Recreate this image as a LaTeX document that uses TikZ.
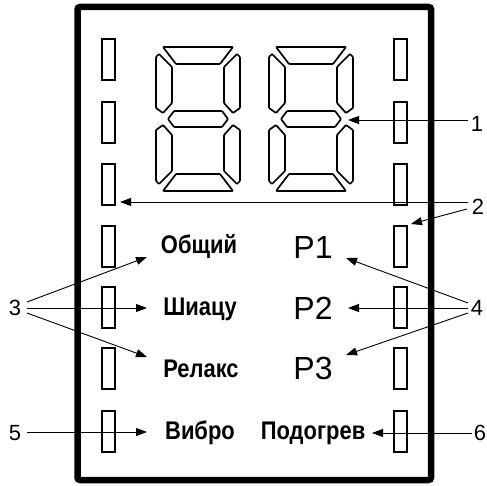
\documentclass[tikz,border=0pt]{standalone}
\usepackage{fontspec}
\setmainfont{Liberation Sans}
\newfontfamily\condbold[FakeStretch=0.86]{Liberation Sans Bold}
\usetikzlibrary{arrows.meta}
\tikzset{
  frame/.style={line width=6.5pt, rounded corners=2.5pt},
  seg/.style={line width=1.7pt, rounded corners=0.8pt, line join=round},
  led/.style={draw, line width=1.5pt, rectangle, minimum width=13pt, minimum height=41pt, inner sep=0pt},
  mode/.style={font=\condbold\fontsize{25.5}{27}\selectfont, inner sep=0pt, anchor=base},
  prog/.style={font=\fontsize{32}{34}\selectfont, inner sep=0pt, anchor=base},
  lab/.style={font=\fontsize{22}{24}\selectfont, inner sep=0pt},
  arr/.style={line width=0.9pt, -{Triangle[length=11pt,width=8pt]}},
  ln/.style={line width=0.9pt}
}
\newcommand{\sevenseg}[2]{%
  \begin{scope}[shift={(#1,#2)}]
    \draw[seg] (-35,-72) -- (35,-72) -- (22,-55) -- (-22,-55) -- cycle;
    \draw[seg] (-35,72) -- (35,72) -- (22,55) -- (-22,55) -- cycle;
    \draw[seg] (-42,-62) -- (-39,-65) -- (-26,-52) -- (-26,-16) -- (-35,-6) -- (-42,-11) -- cycle;
    \draw[seg] (42,-62) -- (39,-65) -- (26,-52) -- (26,-16) -- (35,-6) -- (42,-11) -- cycle;
    \draw[seg] (-42,62) -- (-39,65) -- (-26,52) -- (-26,16) -- (-35,6) -- (-42,11) -- cycle;
    \draw[seg] (42,62) -- (39,65) -- (26,52) -- (26,16) -- (35,6) -- (42,11) -- cycle;
    \draw[seg] (-30,0) -- (-24,-8) -- (24,-8) -- (30,0) -- (24,8) -- (-24,8) -- cycle;
  \end{scope}}
\begin{document}
\begin{tikzpicture}[x=1pt,y=-1pt]
\useasboundingbox (0,0) rectangle (487,486);
% frame
\draw[frame] (77.5,7) rectangle (431,480);
% digits
\sevenseg{198}{119}
\sevenseg{311}{119}
% LED bars
\foreach \i/\yy in {1/59.5,2/122.5,3/184.5,4/246.5,5/307.5,6/368.5,7/431.5}{
  \node[led] (L\i) at (108.5,\yy) {};
  \node[led] (R\i) at (400.5,\yy) {};
}
% mode texts
\node[mode] (obsh) at (199,254) {Общий};
\node[mode] (shia) at (200,315) {Шиацу};
\node[mode] (rel)  at (201,377) {Релакс};
\node[mode] (vib)  at (200,439) {Вибро};
\node[mode] (pod)  at (313,439) {Подогрев};
% programs
\node[prog] (p1) at (313,259) {P1};
\node[prog] (p2) at (313,319) {P2};
\node[prog] (p3) at (313,379) {P3};
% labels
\node[lab] (n1) at (477,124) {1};
\node[lab] (n2) at (478,207) {2};
\node[lab] (n3) at (15,308) {3};
\node[lab] (n4) at (477,308) {4};
\node[lab] (n5) at (15,433) {5};
\node[lab] (n6) at (480,433) {6};
% arrow tips
\coordinate (t1) at (348,120);
\coordinate (t2a) at (120,202);
\coordinate (t2b) at (411,224);
\coordinate (t3a) at (147,257);
\coordinate (t3b) at (147,308);
\coordinate (t3c) at (147,357);
\coordinate (t4a) at (346,258);
\coordinate (t4b) at (348,308);
\coordinate (t4c) at (346,355);
\coordinate (t5) at (147,432);
\coordinate (t6) at (372,433);
% connectors
\draw[arr] (468,120) coordinate (s1) -- (t1);
\draw[arr] (468,202) coordinate (s2a) -- (t2a);
\draw[arr] (467,209) coordinate (s2b) -- (t2b);
\draw[arr] (27,302) coordinate (s3a) -- (t3a);
\draw[arr] (27,308) coordinate (s3b) -- (t3b);
\draw[arr] (27,313) coordinate (s3c) -- (t3c);
\draw[arr] (468,303) coordinate (s4a) -- (t4a);
\draw[arr] (468,308) coordinate (s4b) -- (t4b);
\draw[arr] (468,313) coordinate (s4c) -- (t4c);
\draw[arr] (27,432) coordinate (s5) -- (t5);
\draw[arr] (472,433) coordinate (s6) -- (t6);
\end{tikzpicture}
\end{document}
